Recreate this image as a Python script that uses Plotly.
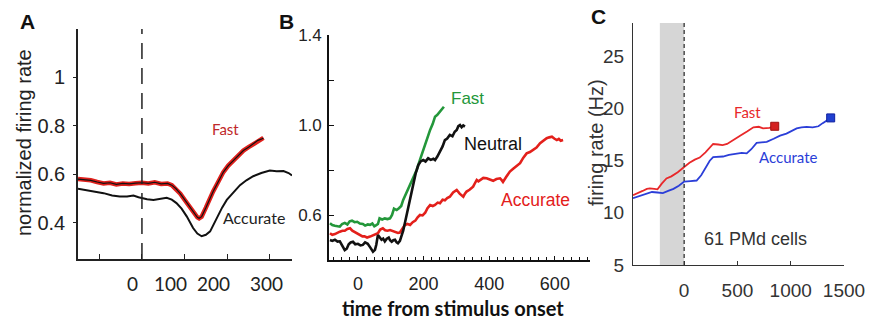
import plotly.graph_objects as go

W, H = 870, 320

# ---------------- Panel A data ----------------
A_FAST_T = [-150,-135,-120,-105,-90,-75,-60,-45,-30,-15,0,15,30,45,60,70,80,90,100,113,122,130,134,140,150,160,167,180,191,202,214,226,238,250,261,272,280,285]
A_FAST_V = [.580,.578,.575,.568,.562,.565,.558,.562,.560,.563,.565,.562,.567,.560,.562,.555,.540,.520,.495,.460,.438,.422,.418,.425,.462,.505,.529,.572,.609,.635,.657,.678,.698,.712,.725,.740,.745,.750]
A_ACC_T = [-150,-130,-110,-90,-70,-52,-35,-20,-8,0,12,27,42,58,70,81,93,105,120,130,140,150,160,175,188,199,215,230,245,261,280,300,316,332,344,352]
A_ACC_V = [.540,.535,.530,.522,.512,.508,.508,.512,.505,.501,.497,.494,.498,.503,.495,.481,.458,.426,.378,.355,.344,.350,.364,.419,.462,.494,.527,.555,.575,.592,.605,.615,.612,.613,.605,.595]
A_YTICKS = [0.4, 0.6, 0.8, 1.0]
A_YTICK_LABELS = ["0.4", "0.6", "0.8", "1"]
A_XTICKS = [-100, 0, 100, 200, 300]
A_XTICK_LABELS = ["0", "100", "200", "300"]
A_XTICK_LABEL_AT = [-21, 66, 167, 291]

# ---------------- Panel B data ----------------
B_FAST_T = [-85,-78,-70,-62,-55,-48,-40,-32,-25,-18,-10,-2,6,15,22,30,37,44,50,56,61,66,74,82,90,98,104,110,118,125,132,138,148,159,169,179,189,199,210,220,228,235,242,250,256,262]
B_FAST_V = [.563,.555,.552,.548,.548,.560,.565,.558,.572,.575,.568,.570,.562,.560,.553,.558,.556,.562,.550,.555,.560,.585,.580,.585,.582,.585,.600,.628,.622,.630,.640,.667,.700,.741,.770,.800,.845,.889,.935,.978,1.005,1.037,1.045,1.059,1.070,1.081]
B_NEU_T = [-85,-78,-70,-62,-55,-47,-40,-34,-28,-22,-15,-8,0,8,15,22,30,38,46,52,56,61,66,72,77,82,88,94,98,103,108,113,118,122,128,133,138,143,151,159,164,169,176,184,191,199,206,214,222,230,235,242,250,258,265,272,280,288,295,301,306,311,316,321,326]
B_NEU_V = [.489,.485,.490,.482,.483,.460,.444,.450,.470,.478,.481,.470,.472,.465,.467,.478,.472,.455,.437,.445,.468,.511,.500,.490,.495,.483,.495,.500,.488,.481,.488,.490,.478,.474,.485,.504,.530,.563,.615,.667,.705,.741,.785,.822,.838,.844,.838,.852,.845,.850,.844,.860,.881,.905,.933,.940,.956,.950,.970,.978,.995,1.0,.990,.998,.993]
B_ACC_T = [-85,-78,-70,-62,-55,-47,-40,-32,-24,-17,-10,-2,6,14,20,28,37,44,50,56,61,68,76,83,90,98,106,115,122,128,135,143,151,159,167,175,182,189,197,205,212,220,228,235,243,250,258,265,272,280,290,301,310,321,326,331,340,351,356,362,367,372,382,392,402,412,422,433,438,442,452,463,473,484,494,504,514,524,534,544,555,565,575,583,591,598,606,612,618,625]
B_ACC_V = [.519,.512,.515,.522,.526,.530,.530,.538,.541,.530,.525,.518,.511,.505,.505,.500,.504,.508,.510,.515,.519,.535,.541,.532,.530,.533,.528,.525,.520,.522,.540,.555,.560,.556,.568,.575,.590,.600,.598,.610,.630,.644,.640,.645,.655,.652,.668,.665,.675,.681,.700,.711,.695,.681,.695,.704,.712,.726,.740,.756,.750,.756,.765,.763,.758,.752,.760,.763,.755,.747,.770,.793,.805,.820,.830,.855,.874,.880,.889,.900,.919,.930,.941,.945,.948,.940,.933,.938,.930,.933]
B_YTICKS = [0.6, 0.8, 1.0, 1.2, 1.4]
B_YTICK_LABELS = ["0.6", "", "1.0", "", "1.4"]
B_XTICKS = [0, 200, 400, 600]
B_XTICK_LABELS = ["0", "200", "400", "600"]

# ---------------- Panel C data ----------------
C_FAST_T = [-480,-430,-390,-350,-322,-280,-250,-210,-166,-120,-60,0,50,100,146,200,240,272,320,360,403,460,525,590,650,700,740,800,850]
C_FAST_V = [11.7,11.9,12.1,12.3,12.35,12.3,12.25,12.8,13.3,13.5,13.9,14.4,14.8,15.1,15.3,15.8,16.3,16.6,16.55,16.5,16.6,17.0,17.4,17.8,18.2,18.25,18.1,18.15,18.3]
C_ACC_T = [-480,-420,-360,-302,-250,-200,-150,-100,-50,0,60,117,160,200,240,272,320,365,420,490,540,587,630,680,720,775,840,900,960,1000,1056,1100,1150,1206,1260,1300,1340,1375]
C_ACC_V = [11.4,11.6,11.8,12.0,11.95,11.9,12.1,12.3,12.6,13.0,13.05,13.1,13.6,14.3,15.0,15.35,15.4,15.4,15.55,15.7,15.75,15.7,16.1,16.7,16.75,16.8,17.1,17.4,17.6,17.8,18.1,18.2,18.25,18.2,18.3,18.6,18.9,19.1]
C_YTICKS = [5, 10, 15, 20, 25]
C_XTICKS = [0, 500, 1000, 1500]
C_SHADE = [-228, 0]

ARIAL = "Liberation Sans, Arial, sans-serif"
CALIBRI = "Lato, Carlito, sans-serif"


def px_x(p):
    return p / W


def px_y(p):
    return 1 - p / H


fig = go.Figure()

fig.add_trace(go.Scatter(x=A_ACC_T, y=A_ACC_V, mode="lines", line=dict(color="#111", width=2),
                         xaxis="x", yaxis="y", showlegend=False))
fig.add_trace(go.Scatter(x=A_FAST_T, y=A_FAST_V, mode="lines", line=dict(color="#e0201c", width=4.5),
                         xaxis="x", yaxis="y", showlegend=False))
fig.add_trace(go.Scatter(x=A_FAST_T, y=A_FAST_V, mode="lines", line=dict(color="#111", width=1.2),
                         xaxis="x", yaxis="y", showlegend=False))

fig.add_trace(go.Scatter(x=B_ACC_T, y=B_ACC_V, mode="lines", line=dict(color="#e3201b", width=2.6),
                         xaxis="x2", yaxis="y2", showlegend=False))
fig.add_trace(go.Scatter(x=B_FAST_T, y=B_FAST_V, mode="lines", line=dict(color="#23973a", width=2.6),
                         xaxis="x2", yaxis="y2", showlegend=False))
fig.add_trace(go.Scatter(x=B_NEU_T, y=B_NEU_V, mode="lines", line=dict(color="#111", width=2.6),
                         xaxis="x2", yaxis="y2", showlegend=False))

fig.add_trace(go.Scatter(x=C_ACC_T, y=C_ACC_V, mode="lines", line=dict(color="#2b3ed8", width=1.8),
                         xaxis="x3", yaxis="y3", showlegend=False))
fig.add_trace(go.Scatter(x=C_FAST_T, y=C_FAST_V, mode="lines", line=dict(color="#e8282a", width=1.8),
                         xaxis="x3", yaxis="y3", showlegend=False))
fig.add_trace(go.Scatter(x=[C_FAST_T[-1]], y=[C_FAST_V[-1]], mode="markers",
                         marker=dict(symbol="square", size=8, color="#d42020", line=dict(color="#a01010", width=1)),
                         xaxis="x3", yaxis="y3", showlegend=False))
fig.add_trace(go.Scatter(x=[C_ACC_T[-1]], y=[C_ACC_V[-1]], mode="markers",
                         marker=dict(symbol="square", size=8, color="#2040d0", line=dict(color="#1020a0", width=1)),
                         xaxis="x3", yaxis="y3", showlegend=False))

axis_common = dict(showgrid=False, zeroline=False, showline=True, mirror=False, automargin=False)

fig.update_layout(
    width=W, height=H, autosize=False,
    margin=dict(l=0, r=0, t=0, b=0, pad=0),
    paper_bgcolor="white", plot_bgcolor="white",
    xaxis=dict(axis_common, domain=[px_x(78), px_x(292)], range=[-150, 352], anchor="y",
               linecolor="#222", linewidth=1.6, tickvals=A_XTICKS, ticktext=[""] * len(A_XTICKS),
               ticks="inside", ticklen=5, tickcolor="#222", tickwidth=1.2),
    yaxis=dict(axis_common, domain=[px_y(259), px_y(29)], range=[0.25, 1.2], anchor="x",
               linecolor="#222", linewidth=1.6, tickvals=A_YTICKS, ticktext=A_YTICK_LABELS,
               ticks="outside", ticklen=3, tickcolor="#222",
               tickfont=dict(family=ARIAL, size=20, color="#222"), ticklabelstandoff=4),
    xaxis2=dict(axis_common, domain=[px_x(329), px_x(590)], range=[-88, 707], anchor="y2",
                linecolor="#111", linewidth=1.6, tickvals=B_XTICKS, ticktext=B_XTICK_LABELS,
                ticks="inside", ticklen=4, tickcolor="#111",
                minor=dict(dtick=25, tick0=0, ticks="inside", ticklen=3, tickcolor="#111"),
                tickfont=dict(family=ARIAL, size=18, color="#222"), ticklabelstandoff=7),
    yaxis2=dict(axis_common, domain=[px_y(260), px_y(35)], range=[0.4, 1.4], anchor="x2",
                linecolor="#111", linewidth=1.6, tickvals=B_YTICKS, ticktext=B_YTICK_LABELS,
                ticks="inside", ticklen=5, tickcolor="#111",
                tickfont=dict(family=ARIAL, size=17, color="#222"), ticklabelstandoff=2),
    xaxis3=dict(axis_common, domain=[px_x(633), px_x(844)], range=[-480, 1500], anchor="y3",
                linecolor="#333", linewidth=1.3, tickvals=C_XTICKS,
                ticks="inside", ticklen=4, tickcolor="#333",
                tickfont=dict(family=ARIAL, size=19, color="#333"), ticklabelstandoff=8),
    yaxis3=dict(axis_common, domain=[px_y(265), px_y(23)], range=[5, 28.2], anchor="x3",
                linecolor="#333", linewidth=1.3, tickvals=C_YTICKS, ticks="",
                tickfont=dict(family=ARIAL, size=19, color="#333"), ticklabelstandoff=4),
)

shapes = [
    dict(type="line", xref="x", yref="y domain", x0=0, x1=0, y0=0, y1=1,
         line=dict(color="#222", width=1.5, dash="16px,9px")),
    dict(type="rect", xref="x3", yref="y3 domain", x0=C_SHADE[0], x1=C_SHADE[1], y0=0, y1=1,
         fillcolor="#d6d6d6", line=dict(width=0), layer="below"),
    dict(type="line", xref="x3", yref="y3 domain", x0=0, x1=0, y0=0, y1=1,
         line=dict(color="#333", width=1.3, dash="4px,3px")),
]
fig.update_layout(shapes=shapes)

ann = []
for lab, pos in zip(A_XTICK_LABELS, A_XTICK_LABEL_AT):
    ann.append(dict(x=pos, y=px_y(283), xref="x", yref="paper", text=lab, showarrow=False,
                    font=dict(family=CALIBRI, size=19, color="#222"), xanchor="center", yanchor="middle"))


def pa(text, x, y, size, color, family=ARIAL, angle=0, bold=False):
    t = f"<b>{text}</b>" if bold else text
    ann.append(dict(x=px_x(x), y=px_y(y), xref="paper", yref="paper", text=t, showarrow=False,
                    textangle=angle, font=dict(family=family, size=size, color=color),
                    xanchor="center", yanchor="middle", borderpad=0))


pa("A", 27, 22, 21, "#111", bold=True)
pa("B", 286, 22, 21, "#111", bold=True)
pa("C", 598, 16, 21, "#111", bold=True)
pa("normalized firing rate", 24, 143, 20, "#222", angle=-90)
pa("firing rate (Hz)", 596, 143, 20, "#333", angle=-90)
pa("Fast", 226, 129, 15, "#c0282a", family=CALIBRI)
pa("Accurate", 254, 217, 16, "#222", family=CALIBRI)
pa("Fast", 468, 98, 17, "#23973a")
pa("Neutral", 493, 144, 18, "#111")
pa("Accurate", 535, 200, 17.5, "#e3201b")
pa("time from stimulus onset", 453, 307.5, 20, "#111", family=CALIBRI, bold=True)
pa("Fast", 747, 112, 15, "#e8282a", family=CALIBRI)
pa("Accurate", 788, 157, 15, "#2b3ed8", family=CALIBRI)
pa("61 PMd cells", 755, 239, 18, "#333")

fig.update_layout(annotations=ann)
fig.write_html("out.html", config={"displayModeBar": False},
               post_script="document.body.style.margin='0';document.body.style.padding='0';document.body.style.overflow='hidden';")
